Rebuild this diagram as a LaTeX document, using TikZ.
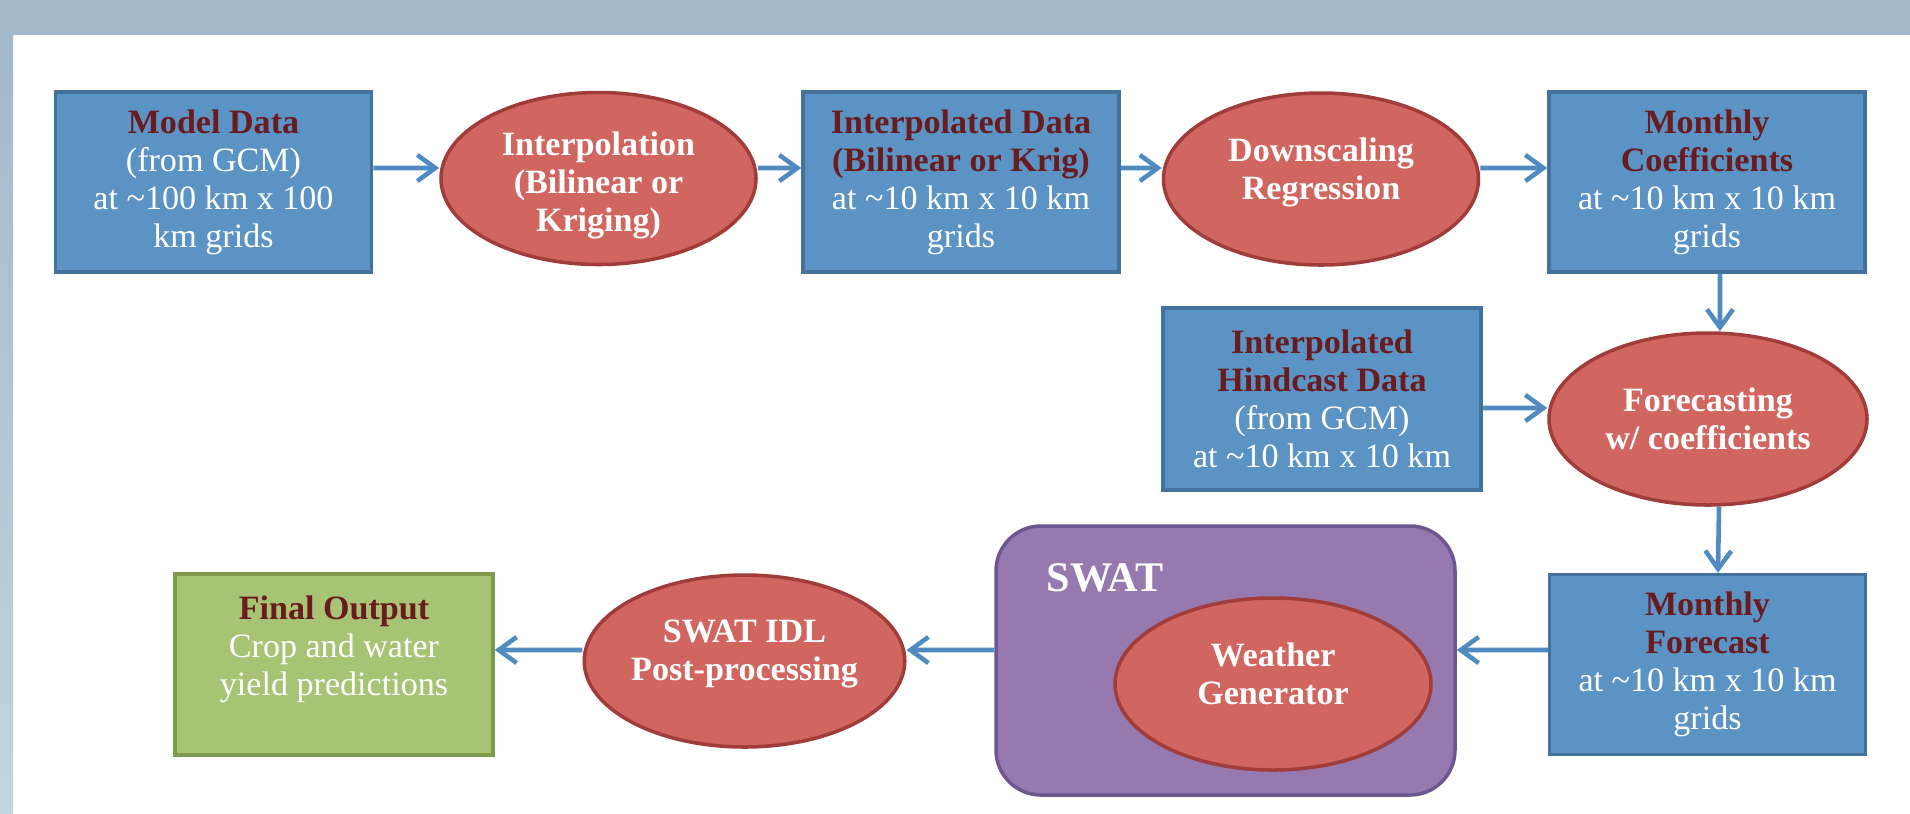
\documentclass[tikz,border=0pt]{standalone}
\usepackage{fontspec}
\setmainfont{Liberation Serif}
\usetikzlibrary{shapes.geometric,arrows.meta}
\definecolor{band}{HTML}{A3B9CC}
\definecolor{bandlow}{HTML}{C3D3DF}
\definecolor{boxfill}{HTML}{5B93C5}
\definecolor{boxline}{HTML}{43729C}
\definecolor{ellfill}{HTML}{D1655F}
\definecolor{ellline}{HTML}{A03C39}
\definecolor{swatfill}{HTML}{9679AE}
\definecolor{swatline}{HTML}{6E5691}
\definecolor{outfill}{HTML}{A7C374}
\definecolor{outline}{HTML}{7E9B4B}
\definecolor{titlec}{HTML}{6A1B1E}
\definecolor{arrowc}{HTML}{4F8AC0}
\newcommand\boxtitle[1]{\textcolor{titlec}{\textbf{#1}}}
\begin{document}
\begin{tikzpicture}[x=1cm,y=-1cm,
    font=\fontsize{9.7}{10.8}\selectfont,
    databox/.style={rectangle,draw=boxline,fill=boxfill,line width=1pt,minimum width=3.16cm,minimum height=1.8cm,inner sep=0pt,align=center,text=white},
    procell/.style={ellipse,draw=ellline,fill=ellfill,line width=1pt,minimum width=3.15cm,minimum height=1.72cm,inner sep=0pt,align=center,text=white,font=\fontsize{9.7}{10.8}\selectfont\bfseries},
    flow/.style={draw=arrowc,line width=1.3pt,-{Straight Barb[length=1.8mm,width=2.6mm]}}]
    \useasboundingbox (0,0) rectangle (19.10,8.13);
    \fill[white] (0,0) rectangle (19.10,8.13);
    \fill[band] (0,0) rectangle (19.10,0.35);
    \shade[top color=band,bottom color=bandlow] (0,0.35) rectangle (0.13,8.13);

    \node[databox] (mdata) at (2.135,1.82) {\boxtitle{Model Data}\\(from GCM)\\at \textasciitilde100 km x 100\\km grids};
    \node[procell] (interp) at (5.985,1.785) {\rule{0pt}{10.6pt}Interpolation\\(Bilinear or\\Kriging)};
    \node[databox] (idata) at (9.61,1.82) {\boxtitle{Interpolated Data}\\\boxtitle{(Bilinear or Krig)}\\at \textasciitilde10 km x 10 km\\grids};
    \node[procell] (dscale) at (13.21,1.79) {Downscaling\\Regression\rule[-6pt]{0pt}{0pt}};
    \node[databox] (mcoef) at (17.07,1.82) {\boxtitle{Monthly}\\\boxtitle{Coefficients}\\at \textasciitilde10 km x 10 km\\grids};
    \node[databox,minimum width=3.18cm,minimum height=1.82cm] (hind) at (13.22,3.99) {\boxtitle{Interpolated}\\\boxtitle{Hindcast Data}\\(from GCM)\\at \textasciitilde10 km x 10 km};
    \node[procell,minimum width=3.18cm] (fcast) at (17.08,4.19) {Forecasting\\w/ coefficients};
    \node[databox] (mfore) at (17.075,6.645) {\boxtitle{Monthly}\\\boxtitle{Forecast}\\at \textasciitilde10 km x 10 km\\grids};
    \node[rectangle,rounded corners=0.45cm,draw=swatline,fill=swatfill,line width=1pt,minimum width=4.59cm,minimum height=2.69cm] (swat) at (12.255,6.605) {};
    \node[text=white,font=\fontsize{12}{14}\selectfont\bfseries] (swatlbl) at (11.05,5.78) {SWAT};
    \node[procell,minimum width=3.16cm] (wgen) at (12.73,6.84) {Weather\\Generator\rule[-5.7pt]{0pt}{0pt}};
    \node[procell] (idl) at (7.445,6.61) {SWAT IDL\\Post-processing\rule[-6pt]{0pt}{0pt}};
    \node[databox,draw=outline,fill=outfill,minimum width=3.18cm,minimum height=1.81cm] (final) at (3.34,6.645) {\boxtitle{Final Output}\\Crop and water\\yield predictions\\\mbox{}};

    \draw[flow] ([yshift=1.4mm]mdata.east) -- ([yshift=1.05mm]interp.west);
    \draw[flow] ([yshift=1.05mm]interp.east) -- ([yshift=1.4mm]idata.west);
    \draw[flow] ([yshift=1.4mm]idata.east) -- ([yshift=1.1mm]dscale.west);
    \draw[flow] ([yshift=1.1mm]dscale.east) -- ([yshift=1.4mm]mcoef.west);
    \draw[flow] ([xshift=1.3mm]mcoef.south) -- ([xshift=1.2mm]fcast.north);
    \draw[flow] ([yshift=-0.9mm]hind.east) -- ([yshift=1.1mm]fcast.west);
    \draw[flow] ([xshift=1.1mm]fcast.south) -- ([xshift=1.05mm]mfore.north);
    \draw[flow] ([yshift=1.45mm]mfore.west) -- ([yshift=1.05mm]swat.east);
    \draw[flow] ([yshift=1.05mm]swat.west) -- ([yshift=1.1mm]idl.east);
    \draw[flow] ([yshift=1.1mm]idl.west) -- ([yshift=1.45mm]final.east);
\end{tikzpicture}
\end{document}
